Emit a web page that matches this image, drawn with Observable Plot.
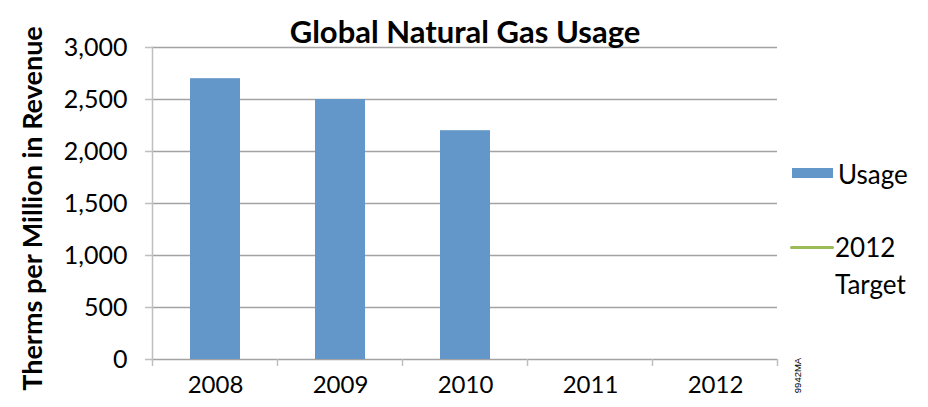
<!DOCTYPE html>
<html><head><meta charset="utf-8">
<script src="https://cdn.jsdelivr.net/npm/d3@7"></script>
<script src="https://cdn.jsdelivr.net/npm/@observablehq/plot@0.6"></script>
<style>
body{margin:0;background:#fff;}
#chart{position:relative;width:928px;height:407px;font-family:Lato,sans-serif;color:#000;overflow:hidden;}
#chart svg{display:block;}
.lg{position:absolute;font-size:26px;line-height:37px;font-family:Lato,sans-serif;}
.sw{position:absolute;}
</style></head><body><div id="chart"></div>
<script>
const years = ["2008", "2009", "2010", "2011", "2012"];
const usage = [2700, 2500, 2200, null, null];
const yTicks = [0, 500, 1000, 1500, 2000, 2500, 3000];
const title = "Global Natural Gas Usage";
const yLabel = "Therms per Million in Revenue";
const seriesNames = ["Usage", "2012 Target"];
const seriesColors = ["#6396c9", "#9bbb59"];
const note = "9942MA";

const data = years.map((y, i) => ({year: y, usage: usage[i]})).filter(d => d.usage != null);

function boundaryTicks(index, scales, values, dims) {
  const g = d3.create("svg:g").attr("stroke", "#bfbfbf").attr("stroke-width", 1.5);
  const x = scales.x, y = scales.y;
  const bw = typeof x.bandwidth === "function" ? x.bandwidth() : (x.bandwidth || 0);
  const step = x(years[1]) - x(years[0]);
  const bounds = years.map(d => x(d) + bw / 2 - step / 2);
  bounds.push(bounds[bounds.length - 1] + step);
  const y0 = y(0);
  for (const b of bounds) g.append("line").attr("x1", b).attr("x2", b).attr("y1", y0).attr("y2", y0 + 7);
  return g.node();
}

const plot = Plot.plot({
  width: 928, height: 407,
  marginLeft: 152, marginRight: 151, marginTop: 47, marginBottom: 48,
  style: {fontFamily: "Lato, sans-serif", fontSize: "24px", color: "#000", background: "#fff"},
  x: {domain: years, paddingInner: 0.6, paddingOuter: 0.3, label: null},
  y: {domain: [0, 3000], label: null},
  marks: [
    Plot.ruleY(yTicks, {stroke: "#a3a3a3", strokeWidth: 1.6}),
    Plot.frame({anchor: "left", stroke: "#bfbfbf", strokeWidth: 1.5}),
    Plot.axisY({ticks: yTicks, tickSize: 7, tickPadding: 18, tickFormat: d3.format(","), stroke: "#bfbfbf", strokeWidth: 1.5, fontSize: 25, fill: "#000", label: null}),
    Plot.axisX({tickSize: 0, tickPadding: 16, fontSize: 24, fill: "#000", label: null}),
    boundaryTicks,
    Plot.barY(data, {x: "year", y: "usage", fill: seriesColors[0]}),
    Plot.text([title], {frameAnchor: "top", dy: -27, fontWeight: "bold", fontSize: 31, fill: "#000"}),
    Plot.text([yLabel], {frameAnchor: "left", textAnchor: "middle", rotate: -90, dx: -119, dy: 5, fontWeight: "bold", fontSize: 27, fill: "#000"}),
    Plot.text([note], {frameAnchor: "bottom-right", textAnchor: "middle", rotate: -90, dx: 23, dy: 16, fontSize: 9.5, fill: "#000", fontFamily: "Liberation Sans, Arial, sans-serif"})
  ]
});

const chart = document.getElementById("chart");
chart.appendChild(plot);

const lg1s = document.createElement("div");
lg1s.className = "sw";
Object.assign(lg1s.style, {left: "792px", top: "168px", width: "41px", height: "10px", background: seriesColors[0]});
chart.appendChild(lg1s);
const lg1t = document.createElement("div");
lg1t.className = "lg";
Object.assign(lg1t.style, {left: "838px", top: "156px"});
lg1t.textContent = seriesNames[0];
chart.appendChild(lg1t);

const lg2s = document.createElement("div");
lg2s.className = "sw";
Object.assign(lg2s.style, {left: "790px", top: "246px", width: "44px", height: "3px", background: seriesColors[1], borderRadius: "2px"});
chart.appendChild(lg2s);
const lg2t = document.createElement("div");
lg2t.className = "lg";
Object.assign(lg2t.style, {left: "835px", top: "229px", width: "90px"});
lg2t.innerHTML = seriesNames[1].split(" ").join("<br>");
chart.appendChild(lg2t);
</script>
</body></html>
